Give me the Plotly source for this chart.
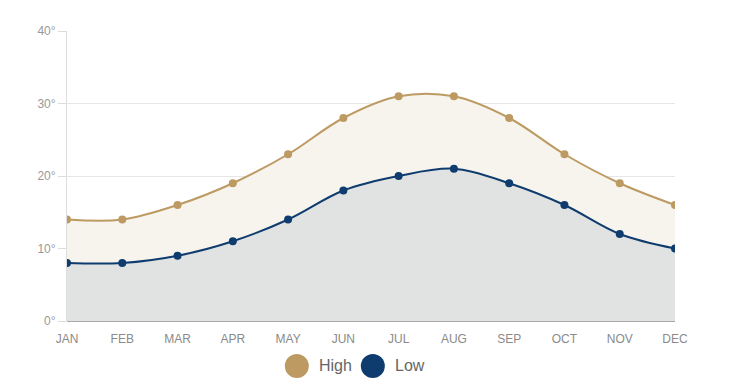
import plotly.graph_objects as go

months = ["JAN", "FEB", "MAR", "APR", "MAY", "JUN", "JUL", "AUG", "SEP", "OCT", "NOV", "DEC"]
high = [14, 14, 16, 19, 23, 28, 31, 31, 28, 23, 19, 16]
low = [8, 8, 9, 11, 14, 18, 20, 21, 19, 16, 12, 10]
y_ticks = [0, 10, 20, 30, 40]
y_labels = [f"{v}°" for v in y_ticks]

high_color = "#bc9a62"
low_color = "#0e3c6e"

fig = go.Figure()
fig.add_trace(go.Scatter(
    x=months, y=high, name="High", mode="lines+markers",
    line=dict(color=high_color, width=2, shape="spline", smoothing=1),
    marker=dict(size=8, color=high_color),
    fill="tozeroy", fillcolor="#f7f4ee", showlegend=False,
))
fig.add_trace(go.Scatter(
    x=months, y=low, name="Low", mode="lines+markers",
    line=dict(color=low_color, width=2, shape="spline", smoothing=1),
    marker=dict(size=8, color=low_color),
    fill="tozeroy", fillcolor="#e1e2e2", showlegend=False,
))

# manual legend (large circle swatches)
PW, PH = 608, 290
legend_items = [("High", high_color, 0.378), ("Low", low_color, 0.503)]
for name, color, xc in legend_items:
    fig.add_shape(type="circle", xref="paper", yref="paper",
                  x0=xc - 12 / PW, x1=xc + 12 / PW,
                  y0=-0.155 - 12 / PH, y1=-0.155 + 12 / PH,
                  fillcolor=color, line=dict(width=0))
    fig.add_annotation(text=name, xref="paper", yref="paper",
                       x=xc + 20 / PW, y=-0.155, xanchor="left", yanchor="middle",
                       showarrow=False, font=dict(size=16, color="#666666"))

fig.update_layout(
    width=728, height=380,
    margin=dict(l=59, r=61, t=23, b=67),
    paper_bgcolor="white", plot_bgcolor="white",
    font=dict(family="Liberation Sans, Arial, sans-serif", color="#999999", size=12),
    showlegend=False,
    xaxis=dict(
        type="category", range=[0, 11], showgrid=False, zeroline=False,
        showline=False, ticks="", tickfont=dict(size=12, color="#8a8a8a"),
        ticklabelstandoff=9,
    ),
    yaxis=dict(
        range=[0, 40], tickvals=y_ticks, ticktext=y_labels,
        showgrid=True, gridcolor="#e6e6e6", gridwidth=1,
        zeroline=True, zerolinecolor="#aaaaaa", zerolinewidth=1,
        showline=True, linecolor="#dddddd", linewidth=1,
        ticks="outside", ticklen=8, tickcolor="#dddddd",
        tickfont=dict(size=12, color="#999999"),
    ),
)

fig.write_html("out.html")
